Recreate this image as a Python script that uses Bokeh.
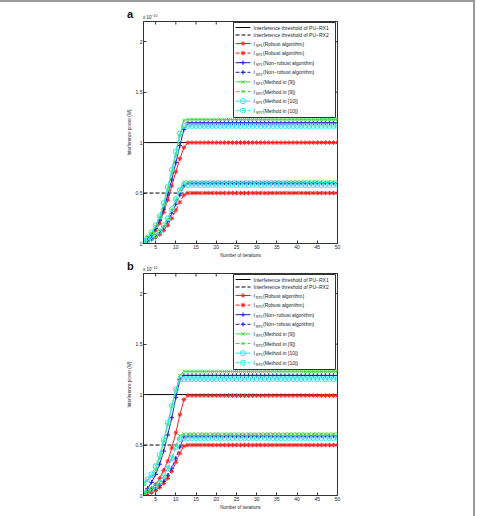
from bokeh.plotting import figure
from bokeh.models import Range1d, FixedTicker, Div
from bokeh.layouts import column, row
from bokeh.core.properties import value
from bokeh.embed import file_html
from bokeh.resources import INLINE

FONT = "Liberation Sans"

iterations = list(range(2, 51))
x_ticks = [5, 10, 15, 20, 25, 30, 35, 40, 45, 50]
y_ticks = [0, 0.5, 1, 1.5, 2]
y_tick_labels = ["0", "0.5", "1", "1.5", "2"]

# interference thresholds of the two primary receivers (x 1e-10 W)
threshold_rx1 = 1.0
threshold_rx2 = 0.5

# Interference power (x 1e-10 W) during the first iterations; after the
# listed values every algorithm stays at its converged level.
# (a) SR link
a_robust_1 = [0.02, 0.04, 0.08, 0.13, 0.20, 0.31, 0.43, 0.57, 0.71, 0.84, 0.95, 1.00]
a_robust_2 = [0.01, 0.02, 0.04, 0.06, 0.09, 0.13, 0.18, 0.25, 0.33, 0.41, 0.48, 0.50]
a_nonrobust_1 = [0.02, 0.05, 0.09, 0.15, 0.23, 0.34, 0.48, 0.63, 0.80, 0.97, 1.13, 1.195]
a_nonrobust_2 = [0.01, 0.03, 0.05, 0.07, 0.11, 0.16, 0.22, 0.30, 0.39, 0.48, 0.57, 0.60]
a_method9_1 = [0.03, 0.06, 0.10, 0.17, 0.26, 0.38, 0.53, 0.70, 0.88, 1.07, 1.22, 1.23]
a_method9_2 = [0.02, 0.03, 0.05, 0.08, 0.12, 0.17, 0.24, 0.33, 0.43, 0.53, 0.61]
a_method10_1 = [0.03, 0.06, 0.11, 0.18, 0.27, 0.40, 0.56, 0.73, 0.91, 1.09, 1.165]
a_method10_2 = [0.02, 0.03, 0.05, 0.08, 0.12, 0.18, 0.25, 0.34, 0.44, 0.53, 0.58]

# (b) PD link
b_robust_1 = [0.02, 0.04, 0.07, 0.11, 0.17, 0.25, 0.34, 0.47, 0.62, 0.80, 0.95, 0.99]
b_robust_2 = [0.01, 0.02, 0.03, 0.05, 0.08, 0.12, 0.17, 0.24, 0.33, 0.42, 0.49, 0.50]
b_nonrobust_1 = [0.03, 0.07, 0.13, 0.21, 0.31, 0.44, 0.60, 0.77, 0.97, 1.15, 1.19]
b_nonrobust_2 = [0.01, 0.03, 0.05, 0.07, 0.10, 0.14, 0.20, 0.27, 0.37, 0.48, 0.58, 0.59]
b_method9_1 = [0.115, 0.15, 0.19, 0.25, 0.37, 0.53, 0.70, 0.88, 1.04, 1.19, 1.23]
b_method9_2 = [0.02, 0.04, 0.06, 0.09, 0.13, 0.19, 0.27, 0.37, 0.49, 0.59, 0.61]
b_method10_1 = [0.12, 0.16, 0.21, 0.29, 0.40, 0.55, 0.72, 0.89, 1.05, 1.15, 1.155]
b_method10_2 = [0.02, 0.04, 0.06, 0.09, 0.13, 0.19, 0.27, 0.37, 0.48, 0.56, 0.57]

legend_names = ["(Robust algorithm)", "(Robust algorithm)",
                "(Non\u2212robust algorithm)", "(Non\u2212robust algorithm)",
                "(Method in [9])", "(Method in [9])",
                "(Method in [10])", "(Method in [10])"]
threshold_names = ["Interference threshold of PU\u2212RX1",
                   "Interference threshold of PU\u2212RX2"]
caption_bold = "Fig. 5 a, b"
caption_text = "Interference power to each PU-RX from SR link and PD link (\u03b5 = 0.2)"

COLORS = ["#ff1f1f", "#1f1fc8", "#3fdc3f", "#2fe4ea"]
MARKERS = ["asterisk", "cross", "x", "circle"]

X0, X1 = 2, 50
Y0, Y1 = 0, 2.2
FW, FH = 194, 222
AXIS = "#333333"
PAGE_LINE = "#9a9a9a"
COL_W = 473


def settle(head):
    return head + [head[-1]] * (len(iterations) - len(head))


def fx(px):
    return X0 + px * (X1 - X0) / FW


def fy(py):
    return Y1 - py * (Y1 - Y0) / FH


def header(letter, height, base, top_line):
    line = ""
    if top_line:
        line = ('<div style="position:absolute;left:0;top:0;width:%dpx;height:0;'
                'border-top:2px solid %s;"></div>' % (COL_W + 2, PAGE_LINE))
    html = (
        '<div style="position:relative;width:%dpx;height:%dpx;font-family:\'%s\';'
        'color:#222;">%s'
        '<span style="position:absolute;left:127px;top:%dpx;font-size:11px;'
        'font-weight:bold;line-height:11px;color:#111;">%s</span>'
        '<span style="position:absolute;left:143px;top:%dpx;font-size:4.5px;'
        'line-height:5px;">x 10<span style="position:relative;top:-2px;'
        'font-size:3.4px;">\u221210</span></span>'
        '</div>' % (COL_W, height, FONT, line, base - 10, letter, base - 4)
    )
    return Div(text=html, width=COL_W, height=height, margin=0)


def panel(series, sub_prefix, bottom):
    p = figure(frame_width=FW, frame_height=FH, output_backend="svg",
               toolbar_location=None,
               x_range=Range1d(X0, X1), y_range=Range1d(Y0, Y1),
               min_border_left=143, min_border_right=COL_W - 143 - FW,
               min_border_top=1, min_border_bottom=bottom)
    p.grid.visible = False
    p.outline_line_color = AXIS
    p.outline_line_width = 1
    p.background_fill_color = "white"
    p.border_fill_color = "white"

    p.xaxis.ticker = FixedTicker(ticks=x_ticks)
    p.xaxis.axis_label = "Number of iterations"
    p.yaxis.ticker = FixedTicker(ticks=y_ticks)
    p.yaxis.major_label_overrides = {t: s for t, s in zip(y_ticks, y_tick_labels)}
    p.yaxis.axis_label = "Interference power (W)"
    for ax in p.axis:
        ax.axis_line_color = AXIS
        ax.major_tick_line_color = AXIS
        ax.major_tick_in = 3
        ax.major_tick_out = 0
        ax.minor_tick_line_color = None
        ax.major_label_text_font = FONT
        ax.major_label_text_font_size = "5px"
        ax.major_label_text_color = "#222222"
        ax.major_label_standoff = 1
        ax.axis_label_text_font = FONT
        ax.axis_label_text_font_size = "4.5px"
        ax.axis_label_text_font_style = "normal"
        ax.axis_label_text_color = "#222222"
        ax.axis_label_standoff = 1

    # inward ticks on the top and right edges of the box
    p.segment(x0=x_ticks, y0=[Y1] * len(x_ticks), x1=x_ticks,
              y1=[fy(3)] * len(x_ticks), line_color=AXIS, line_width=1)
    p.segment(x0=[X1] * len(y_ticks), y0=y_ticks, x1=[fx(FW - 3)] * len(y_ticks),
              y1=y_ticks, line_color=AXIS, line_width=1)

    # threshold lines
    p.line([X0, X1], [threshold_rx1, threshold_rx1], line_color="black", line_width=1)
    p.line([X0, X1], [threshold_rx2, threshold_rx2], line_color="black", line_width=1,
           line_dash="4 2")

    def marks(xs, ys, k):
        if MARKERS[k] == "circle":
            p.scatter(xs, ys, marker="circle", size=5, line_color=COLORS[k],
                      fill_color=None, line_width=1)
        else:
            p.scatter(xs, ys, marker=MARKERS[k], size=4.5, line_color=COLORS[k],
                      line_width=1)

    for i, ys in enumerate(series):
        k = i // 2
        vals = settle(ys)
        p.line(iterations, vals, line_color=COLORS[k], line_width=1,
               line_dash="solid" if i % 2 == 0 else "4 2")
        marks(iterations, vals, k)

    # legend box
    p.quad(left=[fx(90)], right=[fx(192)], top=[fy(1)], bottom=[fy(96)],
           fill_color="white", line_color=AXIS, line_width=1)
    rows = [6, 13.5, 22, 31.6, 41.2, 50.8, 60.4, 70, 79.6, 89.2]
    for r in range(2):
        yv = fy(rows[r])
        p.line([fx(92), fx(107)], [yv, yv], line_color="black", line_width=1,
               line_dash="solid" if r == 0 else "4 2")
    p.text(x=[fx(110)] * 2, y=[fy(rows[0]), fy(rows[1])], text=threshold_names,
           text_font=value(FONT), text_font_size="5px", text_baseline="middle",
           text_color="#222222")
    for i in range(8):
        k = i // 2
        yv = fy(rows[i + 2])
        p.line([fx(92), fx(107)], [yv, yv], line_color=COLORS[k], line_width=1,
               line_dash="solid" if i % 2 == 0 else "4 2")
        marks([fx(99.5)], [yv], k)
    ys_rows = [fy(rows[i + 2]) for i in range(8)]
    p.text(x=[fx(110)] * 8, y=ys_rows, text=["I"] * 8, text_font=value(FONT),
           text_font_size="5px", text_baseline="middle", text_color="#222222")
    p.text(x=[fx(112.3)] * 8, y=[fy(rows[i + 2] + 2.2) for i in range(8)],
           text=[sub_prefix + str(1 + i % 2) for i in range(8)], text_font=value(FONT),
           text_font_size="3.6px", text_baseline="middle", text_color="#222222")
    p.text(x=[fx(119.5)] * 8, y=ys_rows, text=legend_names, text_font=value(FONT),
           text_font_size="5px", text_baseline="middle", text_color="#222222")
    return p


pa = panel([a_robust_1, a_robust_2, a_nonrobust_1, a_nonrobust_2,
            a_method9_1, a_method9_2, a_method10_1, a_method10_2], "SP", 15)
pb = panel([b_robust_1, b_robust_2, b_nonrobust_1, b_nonrobust_2,
            b_method9_1, b_method9_2, b_method10_1, b_method10_2], "RP", 15)

caption = Div(
    text=('<div style="position:relative;width:%dpx;height:8px;overflow:hidden;'
          'font-family:\'%s\';font-size:7px;line-height:8px;color:#333;">'
          '<span style="position:absolute;left:1px;top:3px;white-space:nowrap;">'
          '<b>%s</b> %s</span></div>' % (COL_W, FONT, caption_bold, caption_text)),
    width=COL_W, height=8, margin=0)

page_edge = Div(text="", width=2, height=516, margin=0,
                styles={"background-color": PAGE_LINE})

body = column(header("a", 20, 19, True), pa, header("b", 12, 11, False), pb, caption,
              spacing=0)
layout = row(body, page_edge, spacing=0)
open("out.html", "w").write(file_html(layout, INLINE))
